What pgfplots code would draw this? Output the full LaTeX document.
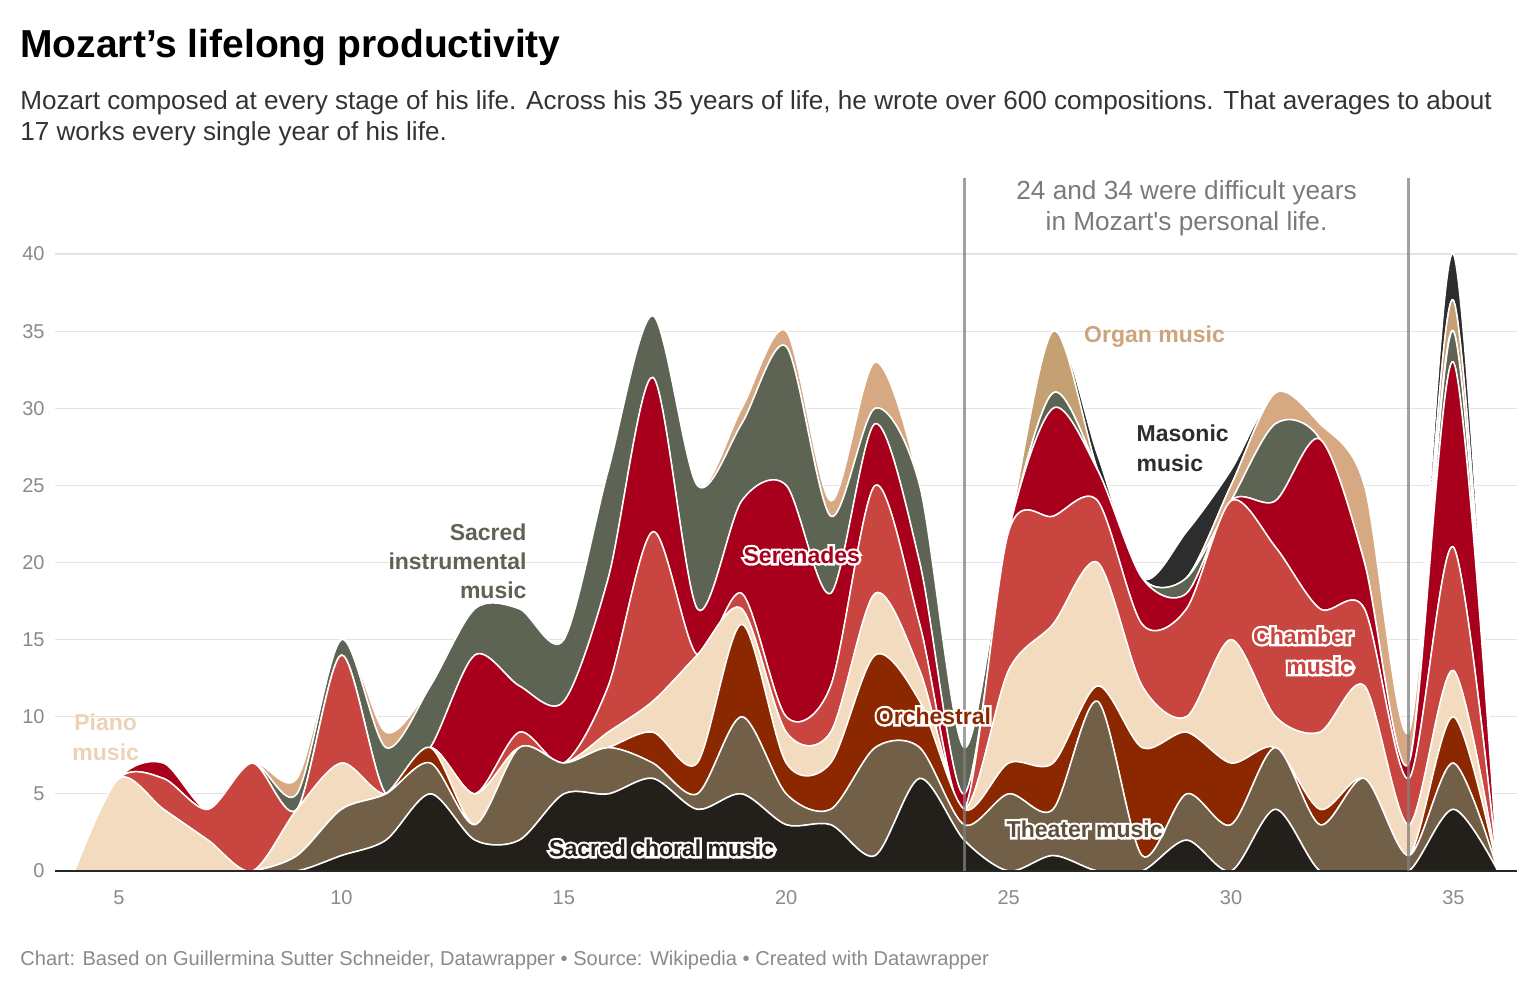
\documentclass[border=0pt]{standalone}
\usepackage{pgfplots}
\pgfplotsset{compat=1.18}
\usepackage{pgfplotstable}
\usepackage{fontspec}
\setmainfont{Liberation Sans}[Ligatures=TeXOff]
\newfontfamily\halofont{Liberation Sans Bold}[FakeBold=20, Ligatures=TeXOff]

\definecolor{cch}{HTML}{23201B}
\definecolor{cth}{HTML}{715F47}
\definecolor{cor}{HTML}{8B2800}
\definecolor{cpi}{HTML}{F2DBBF}
\definecolor{ccm}{HTML}{C94540}
\definecolor{cse}{HTML}{A8001C}
\definecolor{csi}{HTML}{5D6453}
\definecolor{clt}{HTML}{D6A983}
\definecolor{cog}{HTML}{C4A073}
\definecolor{cma}{HTML}{2D2D2D}
\definecolor{gridc}{HTML}{E3E3E3}
\definecolor{tickc}{HTML}{8A8A8A}
\definecolor{subc}{HTML}{333333}
\definecolor{annc}{HTML}{7A7A7A}
\definecolor{pianolab}{HTML}{EDD3B6}
\definecolor{organlab}{HTML}{CDA57A}
\definecolor{thlab}{HTML}{5E4F3B}

\pgfplotstableread{
age ch th or pi cm se si lt og ma
4 0 0 0 0 0 0 0 0 0 0
5 0 0 0 6 0 0 0 0 0 0
6 0 0 0 4 2 1 0 0 0 0
7 0 0 0 2 2 0 0 0 0 0
8 0 0 0 0 7 0 0 0 0 0
9 0 1 0 3 0 0 1 1 0 0
10 1 3 0 3 7 0 1 0 0 0
11 2 3 0 0 0 0 3 1 0 0
12 5 2 1 0 0 0 4 0 0 0
13 2 1 0 2 0 9 3 0 0 0
14 2 6 0 0 1 3 5 0 0 0
15 5 2 0 0 0 4 4 0 0 0
16 5 3 0 1 3 7 7 0 0 0
17 6 1 2 2 11 10 4 0 0 0
18 4 1 2 7 0 3 8 0 0 0
19 5 5 6 1 1 6 5 1 0 0
20 3 2 2 2 1 15 9 1 0 0
21 3 1 3 2 3 6 5 1 0 0
22 1 7 6 4 7 4 1 3 0 0
23 6 2 3 2 3 4 5 0 0 0
24 2 1 1 0 0 1 3 0 0 0
25 0 5 2 6 9 0 0 0 0 0
26 1 3 3 9 7 7 1 0 4 0
27 0 11 1 8 4 2 0 0 0 1
28 0 1 7 4 4 3 0 0 0 0
29 2 3 4 1 7 1 1 0 0 3
30 0 3 4 8 9 0 0 1 0 1
31 4 4 0 2 11 3 5 2 0 0
32 0 3 1 5 8 11 0 1 0 0
33 0 6 0 6 5 3 0 5 0 0
34 0 1 0 2 3 1 0 2 0 0
35 4 3 3 3 8 12 2 0 2 3
36 0 0 0 0 0 0 0 0 0 0
}\datatable

\tikzset{
  lab/.style={font=\bfseries\fontsize{11.5}{15}\selectfont},
  halo/.style={text=white, font=\halofont\fontsize{11.5}{15}\selectfont},
}

\begin{document}
\begin{tikzpicture}
\path[use as bounding box] (0,0) rectangle (768pt,-494.5pt);

\node[anchor=base west, inner sep=0pt, font=\bfseries\fontsize{19.5}{23}\selectfont] at (10pt,-29pt) {Mozart’s lifelong productivity};
\node[anchor=base west, inner sep=0pt, text=subc, font=\fontsize{13.05}{15}\selectfont] at (10pt,-55pt) {Mozart composed at every stage of his life. Across his 35 years of life, he wrote over 600 compositions. That averages to about};
\node[anchor=base west, inner sep=0pt, text=subc, font=\fontsize{13.05}{15}\selectfont] at (10pt,-70.5pt) {17 works every single year of his life.};
\node[anchor=base west, inner sep=0pt, text=tickc, font=\fontsize{10.05}{12}\selectfont] at (10pt,-482.5pt) {Chart: Based on Guillermina Sutter Schneider, Datawrapper • Source: Wikipedia • Created with Datawrapper};

\begin{axis}[
  at={(27.5pt,-435.5pt)}, anchor=south west,
  scale only axis, width=731pt, height=323.9pt,
  xmin=3.56, xmax=36.43, ymin=0, ymax=42,
  stack plots=y,
  clip mode=individual,
  axis line style={draw=none},
  major tick length=0pt,
  xtick={5,10,...,35}, ytick={0,5,...,40},
  ymajorgrids=true,
  major grid style={draw=gridc, line width=0.6pt},
  tick label style={text=tickc, font=\fontsize{10}{12}\selectfont},
  /pgf/number format/assume math mode=true,
  xticklabel style={anchor=base, yshift=-16.5pt},
  yticklabel style={anchor=east, inner sep=0pt, xshift=-5pt},
  every axis plot/.append style={smooth, draw=white, line width=0.75pt},
]
\addplot[fill=cch] table[x=age,y=ch]{\datatable} \closedcycle;
\addplot[fill=cth] table[x=age,y=th]{\datatable} \closedcycle;
\addplot[fill=cor] table[x=age,y=or]{\datatable} \closedcycle;
\addplot[fill=cpi] table[x=age,y=pi]{\datatable} \closedcycle;
\addplot[fill=ccm] table[x=age,y=cm]{\datatable} \closedcycle;
\addplot[fill=cse] table[x=age,y=se]{\datatable} \closedcycle;
\addplot[fill=csi] table[x=age,y=si]{\datatable} \closedcycle;
\addplot[fill=clt] table[x=age,y=lt]{\datatable} \closedcycle;
\addplot[fill=cog] table[x=age,y=og]{\datatable} \closedcycle;
\addplot[fill=cma] table[x=age,y=ma]{\datatable} \closedcycle;

\coordinate (b0) at (axis cs:3.56,0);
\coordinate (b1) at (axis cs:36.43,0);
\coordinate (v24a) at (axis cs:24,0);
\coordinate (v24b) at (axis cs:24,44.9);
\coordinate (v34a) at (axis cs:34,0);
\coordinate (v34b) at (axis cs:34,44.9);
\coordinate (lann) at (axis cs:29.0,42.95);
\coordinate (lpi) at (axis cs:4.7,8.7);
\coordinate (lsi) at (axis cs:14.32,20.1);
\coordinate (lse) at (axis cs:20.35,20.49);
\coordinate (lor) at (axis cs:23.31,10.05);
\coordinate (lch) at (axis cs:17.2,1.49);
\coordinate (lth) at (axis cs:26.71,2.72);
\coordinate (lcm) at (axis cs:32.9,14.27);
\coordinate (lma) at (axis cs:27.72,27.4);
\coordinate (log) at (axis cs:28.28,34.68);
\end{axis}

\draw[draw=black!85, line width=1pt] (b0) -- (b1);
\draw[draw=gray, opacity=0.75, line width=1.5pt] (v24a) -- (v24b);
\draw[draw=gray, opacity=0.75, line width=1.5pt] (v34a) -- (v34b);

\node[align=center, text=annc, font=\fontsize{13.1}{15.5}\selectfont] at (lann) {24 and 34 were difficult years\\in Mozart's personal life.};

\node[align=center, text=pianolab, lab] at (lpi) {Piano\\music};
\node[anchor=east, align=right, text=csi, font=\bfseries\fontsize{11.5}{14.6}\selectfont] at (lsi) {Sacred\\instrumental\\music};
\node[anchor=west, align=left, text=cma, lab] at (lma) {Masonic\\music};
\node[text=organlab, lab] at (log) {Organ music};

\node[halo] at (lse) {Serenades};
\node[text=cse, lab] at (lse) {Serenades};
\node[halo] at (lor) {Orchestral};
\node[text=cor, lab] at (lor) {Orchestral};
\node[halo] at (lch) {Sacred choral music};
\node[text=cch, lab] at (lch) {Sacred choral music};
\node[halo] at (lth) {Theater music};
\node[text=thlab, lab] at (lth) {Theater music};
\node[halo, anchor=east, align=right] at (lcm) {Chamber\\music};
\node[text=ccm, lab, anchor=east, align=right] at (lcm) {Chamber\\music};
\end{tikzpicture}
\end{document}
